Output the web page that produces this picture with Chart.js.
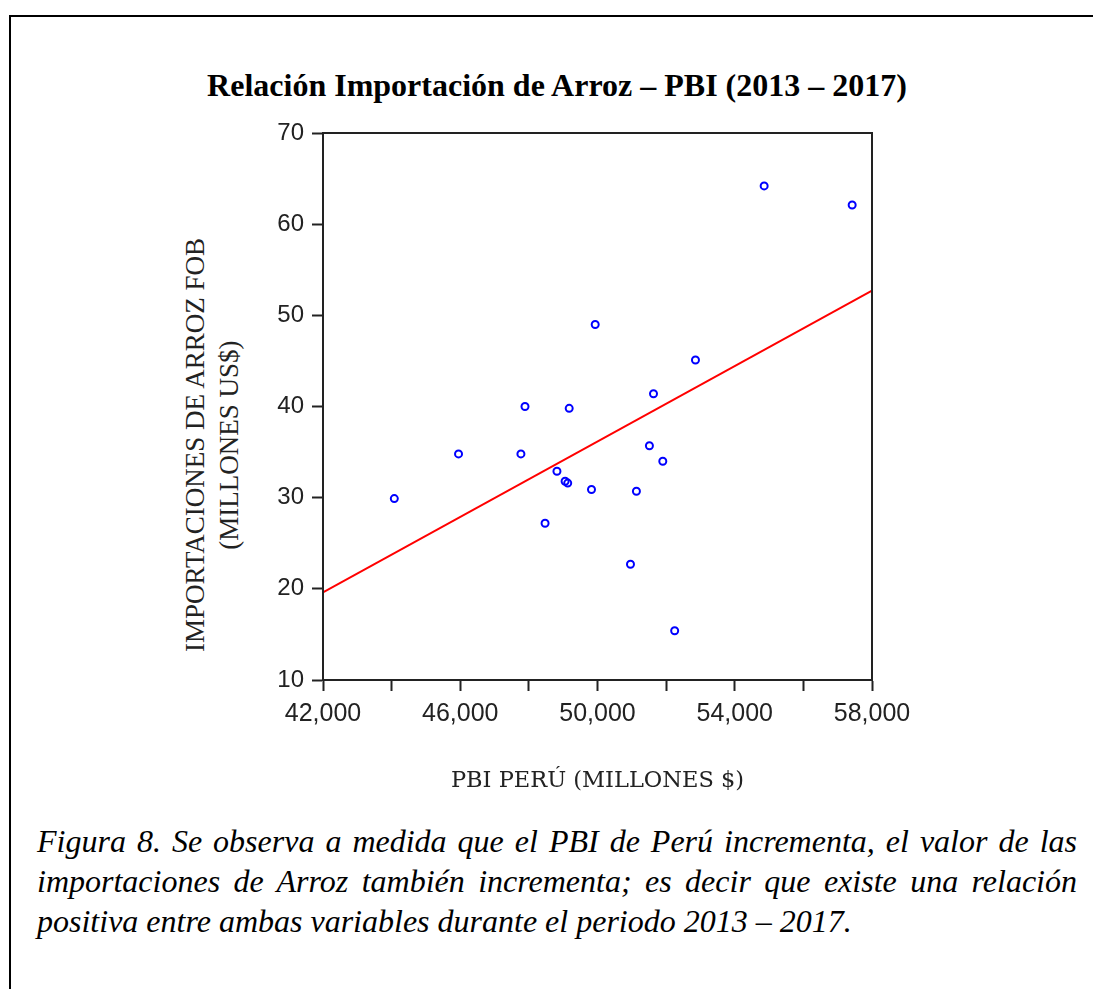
<!DOCTYPE html>
<html>
<head>
<meta charset="utf-8">
<script src="https://cdn.jsdelivr.net/npm/chart.js@4.4.1/dist/chart.umd.min.js"></script>
<style>
  html, body { margin: 0; padding: 0; background: #fff; }
  body { width: 1093px; height: 989px; position: relative; overflow: hidden; }
  .marco { position: absolute; left: 9px; top: 15px; width: 1100px; height: 1000px;
           border-left: 2px solid #000; border-top: 2px solid #000; }
  .titulo { position: absolute; left: 0; width: 1114px; top: 67px; text-align: center;
            font: bold 32px "Liberation Serif", serif; color: #000; }
  .ytitulo { position: absolute; left: 212px; top: 445px; width: 460px;
             transform: translate(-50%, -50%) rotate(-90deg);
             text-align: center; font: 27px "Liberation Serif", serif; line-height: 34px; color: #222; }
  .nota { position: absolute; left: 37px; width: 1040px; top: 821px;
          font: italic 32px "Liberation Serif", serif; line-height: 40px; text-align: justify; color: #000; }
  #wrap { position: absolute; left: 0; top: 110px; width: 1093px; height: 700px; }
</style>
</head>
<body>
<div class="marco"></div>
<div class="titulo">Relación Importación de Arroz – PBI (2013 – 2017)</div>
<div class="ytitulo">IMPORTACIONES DE ARROZ FOB<br>(MILLONES US$)</div>
<div id="wrap"><canvas id="grafico"></canvas></div>
<div class="nota">Figura 8. Se observa a medida que el PBI de Perú incrementa, el valor de las importaciones de Arroz también incrementa; es decir que existe una relación positiva entre ambas variables durante el periodo 2013 – 2017.</div>
<script>
// PBI Perú (millones $) vs importaciones de arroz FOB (millones US$)
const pbi = [44078, 45950, 47768, 47887, 48472, 48818, 49056, 49132, 49175, 49825,
             49933, 50961, 51134, 51513, 51632, 51903, 52249, 52855, 54857, 57422]
const importaciones = [29.9, 34.8, 34.8, 40.0, 27.2, 32.9, 31.8, 31.6, 39.8, 30.9,
                       49.0, 22.7, 30.7, 35.7, 41.4, 34.0, 15.4, 45.1, 64.2, 62.1]

// recta de ajuste (extremos)
const ajusteX = [42000, 58000]
const ajusteY = [19.6, 52.7]

const ctx = document.getElementById('grafico')

const puntos = pbi.map((v, i) => ({x: v, y: importaciones[i]}))
const recta = ajusteX.map((v, i) => ({x: v, y: ajusteY[i]}))

// marco completo del area de trazado
const marcoPlot = {
    id: 'marcoPlot',
    afterDatasetsDraw(chart) {
        const a = chart.chartArea
        const c = chart.ctx
        c.save()
        c.strokeStyle = '#222'
        c.lineWidth = 2
        c.strokeRect(a.left, a.top, a.right - a.left, a.bottom - a.top)
        c.restore()
    }
}

new Chart(ctx, {
    type: 'scatter',
    data: {
        datasets: [{
            label: 'datos',
            data: puntos,
            pointStyle: 'circle',
            pointRadius: 3.5,
            pointBorderWidth: 2,
            borderColor: '#0000ff',
            backgroundColor: 'rgba(255,255,255,0)',
            order: 1
        }, {
            label: 'ajuste',
            data: recta,
            showLine: true,
            borderColor: '#ff0000',
            borderWidth: 2,
            pointRadius: 0,
            order: 2
        }]
    },
    options: {
        responsive: true,
        maintainAspectRatio: false,
        animation: false,
        layout: { padding: { left: 223, right: 221, top: 23, bottom: 10 } },
        plugins: { legend: { display: false }, tooltip: { enabled: false } },
        scales: {
            x: {
                type: 'linear',
                min: 42000,
                max: 58000,
                afterFit: (s) => { s.height = 120 },
                ticks: {
                    stepSize: 2000,
                    padding: 8,
                    maxRotation: 0,
                    minRotation: 0,
                    autoSkip: false,
                    color: '#222',
                    font: { family: 'Liberation Sans', size: 25 },
                    callback: (v) => ((v - 42000) % 4000 === 0 ? v.toLocaleString('en-US') : '')
                },
                grid: { drawOnChartArea: false, tickLength: 11, tickWidth: 2, color: '#222' },
                border: { color: '#222', width: 2 },
                title: {
                    display: true,
                    text: 'PBI PERÚ (MILLONES $)',
                    color: '#222',
                    font: { family: 'DejaVu Serif', size: 22.5 },
                    padding: { bottom: 5 }
                }
            },
            y: {
                min: 10,
                max: 70,
                afterFit: (s) => { s.width = 100 },
                ticks: {
                    stepSize: 10,
                    padding: 8,
                    color: '#222',
                    font: { family: 'Liberation Sans', size: 24 }
                },
                grid: { drawOnChartArea: false, tickLength: 11, tickWidth: 2, color: '#222' },
                border: { color: '#222', width: 2 }
            }
        }
    },
    plugins: [marcoPlot]
})
</script>
</body>
</html>
